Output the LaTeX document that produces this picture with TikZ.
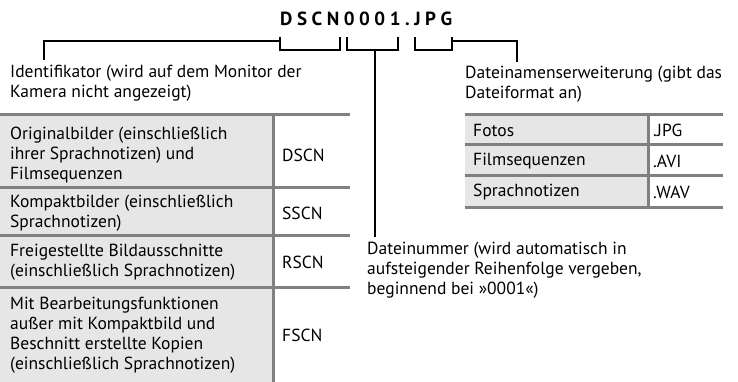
\documentclass[tikz,border=0pt]{standalone}
\usepackage{fontspec}
\setmainfont{PT Sans}
\newfontfamily\titlefont{PT Sans Bold}
\definecolor{rulegray}{HTML}{808080}
\definecolor{cellgray}{HTML}{E6E6E6}
\begin{document}
\begin{tikzpicture}[x=1pt,y=-1pt,
  txt/.style={anchor=west,inner sep=0pt,align=left,font=\fontsize{17.5}{20}\selectfont},
  cell/.style={anchor=west,inner sep=0pt,align=left,font=\fontsize{17.5}{20}\selectfont},
  bracketline/.style={draw=black,line width=2pt},
  tablerule/.style={draw=rulegray,line width=3pt}]
\useasboundingbox (0,0) rectangle (738,382);
% title
\node[inner sep=0pt,anchor=west,font=\titlefont\fontsize{19}{20}\selectfont] (title) at (280,18.5)
  {\makebox[172pt][s]{D\hfill S\hfill C\hfill N\hfill 0\hfill 0\hfill 0\hfill 1\hfill .\hfill J\hfill P\hfill G}};
% bracket coordinates
\coordinate (b1l) at (280,37); \coordinate (b1r) at (340,37);
\coordinate (b2l) at (347,37); \coordinate (b2r) at (398,37);
\coordinate (b3l) at (415,37); \coordinate (b3r) at (452,37);
\coordinate (b1j) at (280,41); \coordinate (b3j) at (452,41);
\coordinate (b2j) at (375,50);
\coordinate (identtop) at (44,60);
\coordinate (exttop) at (517,62);
\coordinate (numtop) at (375,237);
\draw[bracketline] (b1l) -- ++(0,13) -| (b1r);
\draw[bracketline] (b2l) -- ++(0,13) -| (b2r);
\draw[bracketline] (b3l) -- ++(0,13) -| (b3r);
% labels
\node[txt] (ident) at (10,83) {Identifikator (wird auf dem Monitor der\\Kamera nicht angezeigt)};
\node[txt] (ext) at (465,84) {Dateinamenserweiterung (gibt das\\Dateiformat an)};
\node[txt] (num) at (367,270) {Dateinummer (wird automatisch in\\aufsteigender Reihenfolge vergeben,\\beginnend bei »0001«)};
\draw[bracketline] (b1j) -| (identtop);
\draw[bracketline] (b3j) -| (exttop);
\draw[bracketline] (b2j) -- (numtop);
% left table
\fill[cellgray] (0,115) rectangle (273,383);
\draw[tablerule] (273,115) -- (273,383);
\foreach \yy in {115,187,235,287} \draw[tablerule] (0,\yy) -- (350,\yy);
\node[cell] (r1a) at (10,155) {Originalbilder (einschließlich\\ihrer Sprachnotizen) und\\Filmsequenzen};
\node[cell] (r1b) at (282,155) {DSCN};
\node[cell] (r2a) at (10,213) {Kompaktbilder (einschließlich\\Sprachnotizen)};
\node[cell] (r2b) at (282,213) {SSCN};
\node[cell] (r3a) at (10,262) {Freigestellte Bildausschnitte\\(einschließlich Sprachnotizen)};
\node[cell] (r3b) at (282,262) {RSCN};
\node[cell] (r4a) at (10,335) {Mit Bearbeitungsfunktionen\\außer mit Kompaktbild und\\Beschnitt erstellte Kopien\\(einschließlich Sprachnotizen)};
\node[cell] (r4b) at (282,335) {FSCN};
% right table
\fill[cellgray] (465,115) rectangle (648,207);
\draw[tablerule] (648,115) -- (648,207);
\foreach \yy in {115,145,176,207} \draw[tablerule] (465,\yy) -- (723,\yy);
\node[cell] (e1a) at (473,130) {Fotos};
\node[cell] (e1b) at (653,130) {.JPG};
\node[cell] (e2a) at (473,161) {Filmsequenzen};
\node[cell] (e2b) at (653,161) {.AVI};
\node[cell] (e3a) at (473,192) {Sprachnotizen};
\node[cell] (e3b) at (653,192) {.WAV};
\end{tikzpicture}
\end{document}
